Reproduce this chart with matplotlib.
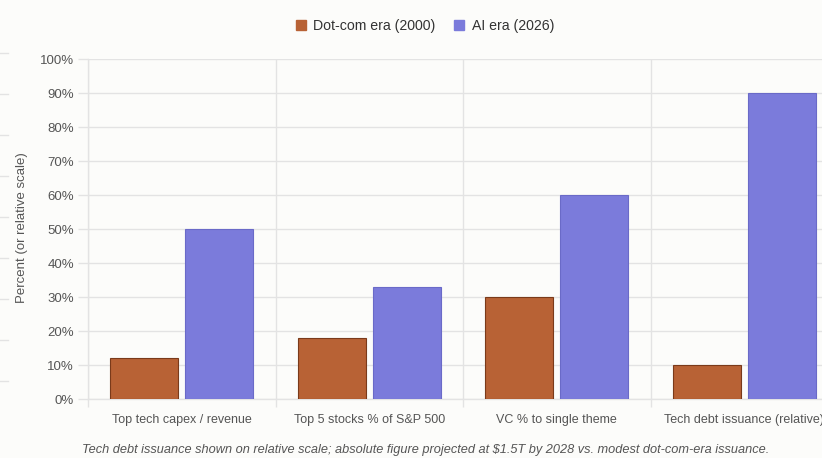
import matplotlib
matplotlib.use("Agg")
import matplotlib.pyplot as plt
from matplotlib.lines import Line2D
from matplotlib.patches import Patch
import numpy as np

categories = ["Top tech capex / revenue", "Top 5 stocks % of S&P 500",
              "VC % to single theme", "Tech debt issuance (relative)"]
dotcom = [12, 18, 30, 10]
ai_era = [50, 33, 60, 90]
series_names = ["Dot-com era (2000)", "AI era (2026)"]
yticks = [0, 10, 20, 30, 40, 50, 60, 70, 80, 90, 100]
footnote = ("Tech debt issuance shown on relative scale; absolute figure projected at $1.5T "
            "by 2028 vs. modest dot-com-era issuance.")

c_dot = "#B86235"
c_dot_edge = "#7a3a1a"
c_ai = "#7B7BDB"
c_ai_edge = "#6a6ac8"
bg = "#FCFCFA"
grid_c = "#E3E3E3"
txt_c = "#555555"

plt.rcParams['font.family'] = ['Liberation Sans', 'DejaVu Sans']

fig = plt.figure(figsize=(8.22, 4.58), dpi=100, facecolor=bg)
W, H = 822, 458
left, right, top, bottom = 88, 838, 59, 399
ax = fig.add_axes([left / W, (H - bottom) / H, (right - left) / W, (bottom - top) / H])
ax.set_facecolor(bg)

x = np.arange(len(categories))
bw = 0.363
off = 0.2
ax.bar(x - off, dotcom, bw, color=c_dot, edgecolor=c_dot_edge, linewidth=0.8, zorder=3)
ax.bar(x + off, ai_era, bw, color=c_ai, edgecolor=c_ai_edge, linewidth=0.8, zorder=3)

ax.set_xlim(-0.5, len(categories) - 0.5)
ax.set_ylim(0, 100)
ax.set_yticks(yticks)
ax.set_yticklabels([f"{v}%" for v in yticks], fontsize=9.5, color=txt_c)
ax.set_xticks(x)
ax.set_xticklabels(categories, fontsize=9, color=txt_c)
ax.set_xticks(np.arange(len(categories) + 1) - 0.5, minor=True)
ax.tick_params(axis='x', which='major', length=0, pad=11)
ax.tick_params(axis='x', which='minor', length=6, color=grid_c, width=1)
ax.tick_params(axis='y', length=7, color=grid_c, width=1, pad=3)
ax.grid(axis='y', color=grid_c, linewidth=1, zorder=0)
ax.grid(axis='x', which='minor', color=grid_c, linewidth=1, zorder=0)
for s in ['top', 'right']:
    ax.spines[s].set_visible(False)
ax.spines['left'].set_color(grid_c)
ax.spines['bottom'].set_color(grid_c)
ax.spines['left'].set_linewidth(1)
ax.spines['bottom'].set_linewidth(1)
ax.set_axisbelow(True)

fig.text(22 / W, 1 - 228 / H, "Percent (or relative scale)", rotation=90, fontsize=9.5,
         color=txt_c, ha='center', va='center')

handles = [Patch(facecolor=c_dot, edgecolor=c_dot), Patch(facecolor=c_ai, edgecolor=c_ai)]
fig.legend(handles, series_names, loc='center', bbox_to_anchor=(425 / W, 1 - 26 / H),
           ncol=2, frameon=False, fontsize=10.2, handlelength=0.7, handleheight=0.8,
           handletextpad=0.55, columnspacing=1.3, labelcolor="#333333")

fig.text(425.5 / W, 1 - 450 / H, footnote, fontsize=9.2, style='italic', color=txt_c,
         ha='center', va='center', family=['Liberation Sans Narrow', 'Liberation Sans', 'DejaVu Sans'])

# faint tick marks at the far left edge (partial element)
for yy in [53, 94, 135, 176, 217, 258, 299, 340, 381]:
    fig.add_artist(Line2D([0, 8 / W], [1 - yy / H, 1 - yy / H], color=grid_c, linewidth=1))

fig.savefig("out.png", dpi=100, facecolor=bg)
